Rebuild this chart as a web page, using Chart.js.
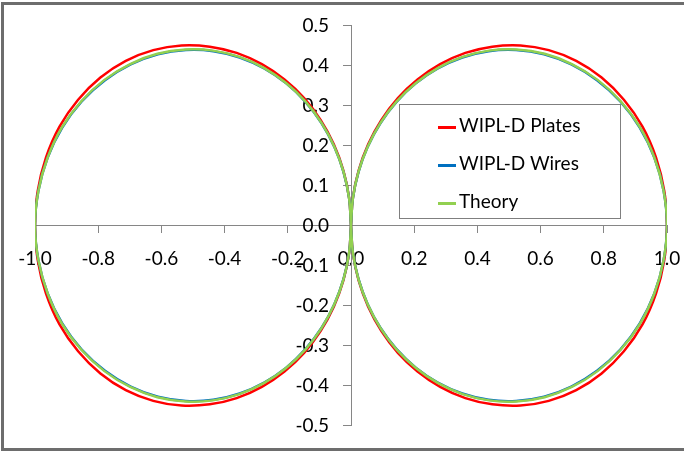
<!DOCTYPE html>
<html>
<head>
<meta charset="utf-8">
<script src="https://cdn.jsdelivr.net/npm/chart.js@4.4.1/dist/chart.umd.min.js"></script>
<style>
  html, body { margin: 0; padding: 0; background: #fff; }
  #frame { position: absolute; left: 1px; top: 2px; width: 720px; height: 443px; border: 3px solid #6d6d6d; }
  #wrap { position: absolute; left: 0; top: 0; width: 684px; height: 451px; }
  #legend { position: absolute; left: 399px; top: 104px; width: 220px; height: 113px; border: 1px solid #7f7f7f;
            font-family: Lato, sans-serif; font-size: 19px; color: #000; }
  .item { position: absolute; left: 38px; height: 22px; line-height: 22px; white-space: nowrap; }
  .swatch { display: inline-block; width: 18px; height: 3px; vertical-align: middle; margin-right: 3px; }
</style>
</head>
<body>
<div id="frame"></div>
<div id="wrap"><canvas id="chart" width="684" height="451"></canvas></div>
<div id="legend"></div>
<script>
// ====== Data ======
// angle from the dipole axis (+y), degrees; pattern is symmetric about both axes
const angles = [0, 5, 10, 15, 20, 25, 30, 35, 40, 45, 50, 55, 60, 65, 70, 75, 80, 85, 90];
const platesR = [0, 0.070, 0.140, 0.210, 0.280, 0.351, 0.421, 0.492, 0.563, 0.632, 0.700, 0.764, 0.823, 0.875, 0.919, 0.955, 0.980, 0.995, 1.0];
const wiresR  = [0, 0.068, 0.135, 0.203, 0.272, 0.341, 0.410, 0.479, 0.548, 0.616, 0.682, 0.746, 0.805, 0.859, 0.907, 0.946, 0.975, 0.993, 1.0];
const theoryR = [0, 0.068, 0.136, 0.204, 0.273, 0.342, 0.411, 0.481, 0.550, 0.618, 0.684, 0.748, 0.807, 0.861, 0.908, 0.947, 0.975, 0.993, 1.0];
const seriesNames = ["WIPL-D Plates", "WIPL-D Wires", "Theory"];
const seriesColors = ["#ff0000", "#0070c0", "#92d050"];
const xTicks = [-1.0, -0.8, -0.6, -0.4, -0.2, 0.0, 0.2, 0.4, 0.6, 0.8, 1.0];
const yTicks = [-0.5, -0.4, -0.3, -0.2, -0.1, 0.0, 0.1, 0.2, 0.3, 0.4, 0.5];

// ====== Helpers ======
function pt(r, deg, side) {
  const a = deg * Math.PI / 180;
  return { x: side * r * Math.sin(a), y: r * Math.cos(a) };
}
function lobe(r, side) {
  const pts = [];
  for (let i = 0; i < angles.length; i++) pts.push(pt(r[i], angles[i], side));
  for (let i = angles.length - 2; i >= 0; i--) pts.push(pt(r[i], 180 - angles[i], side));
  return pts;
}
function pattern(r) {
  return lobe(r, 1).concat([{ x: null, y: null }], lobe(r, -1));
}
function fmt(v) {
  return Math.abs(v) < 1e-9 ? "0.0" : Number(v).toFixed(1);
}

// axes placed at 0 put their labels oddly, so nudge them here
const X_LABEL_DROP = 13;
class CenterAxis extends Chart.LinearScale {
  _computeLabelItems(chartArea) {
    const items = super._computeLabelItems(chartArea);
    const isY = this.axis === 'y';
    const shift = isY ? this.options.grid.tickLength + this.options.ticks.padding : X_LABEL_DROP;
    items.forEach(it => {
      const t = it.options.translation;
      it.options.translation = isY ? [t[0] - shift, t[1]] : [t[0], t[1] + shift];
    });
    return items;
  }
}
CenterAxis.id = 'centerAxis';
CenterAxis.defaults = Chart.LinearScale.defaults;
Chart.register(CenterAxis);

// ====== Chart Setup ======
Chart.defaults.font.family = "Lato, sans-serif";
Chart.defaults.font.size = 19;
Chart.defaults.color = "#000";

const allR = [platesR, wiresR, theoryR];
const ctx = document.getElementById("chart").getContext("2d");
const chart = new Chart(ctx, {
  type: "scatter",
  data: {
    datasets: seriesNames.map((name, i) => ({
      label: name,
      data: pattern(allR[i]),
      showLine: true,
      spanGaps: false,
      borderColor: seriesColors[i],
      backgroundColor: seriesColors[i],
      borderWidth: 2.5,
      pointRadius: 0,
      tension: 0.4,
      order: 3 - i
    }))
  },
  options: {
    responsive: false,
    animation: false,
    layout: { padding: { left: 35, right: 17, top: 24, bottom: 19 } },
    plugins: { legend: { display: false }, tooltip: { enabled: false } },
    scales: {
      x: {
        type: "centerAxis",
        position: { y: 0 },
        min: -1, max: 1,
        afterBuildTicks: (s) => { s.ticks = xTicks.map(v => ({ value: v })); },
        ticks: { callback: fmt, padding: 2, maxRotation: 0, autoSkip: false },
        grid: { drawOnChartArea: false, tickLength: 7, color: "#868686" },
        border: { color: "#868686", width: 1 }
      },
      y: {
        type: "centerAxis",
        position: { x: 0 },
        min: -0.5, max: 0.5,
        afterBuildTicks: (s) => { s.ticks = yTicks.map(v => ({ value: v })); },
        ticks: { callback: fmt, padding: 14, autoSkip: false },
        grid: { drawOnChartArea: false, tickLength: 8, color: "#868686" },
        border: { color: "#868686", width: 1 }
      }
    }
  }
});

// ====== Legend ======
const legend = document.getElementById("legend");
seriesNames.forEach((name, i) => {
  const row = document.createElement("div");
  row.className = "item";
  row.style.top = (9 + i * 38) + "px";
  row.innerHTML = `<span class="swatch" style="background:${seriesColors[i]}"></span>${name}`;
  legend.appendChild(row);
});
</script>
</body>
</html>
